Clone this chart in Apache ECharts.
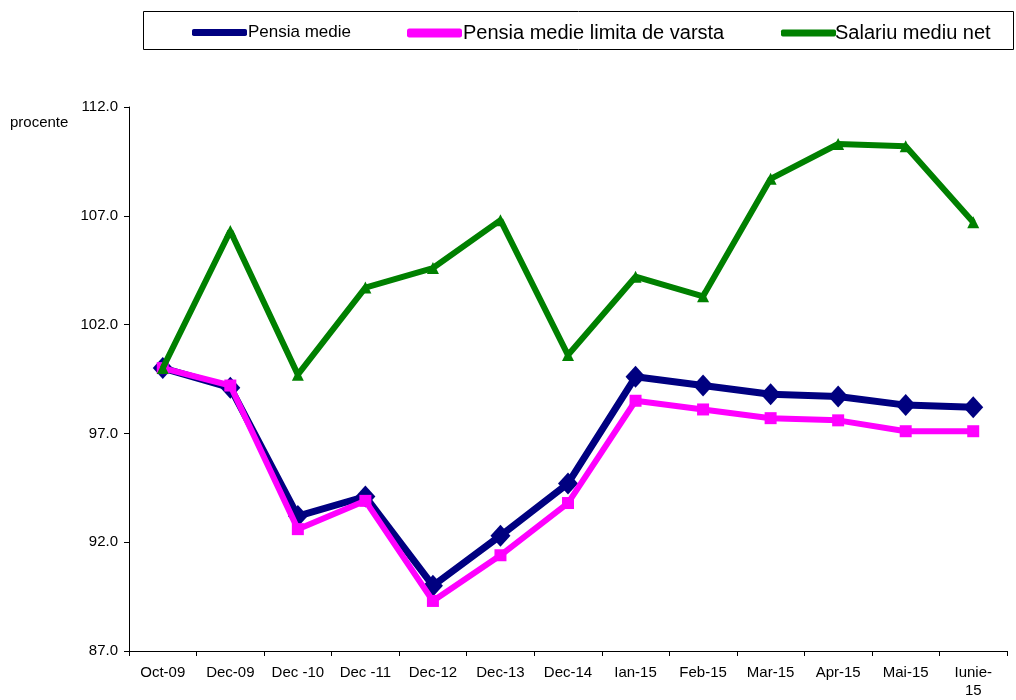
<!DOCTYPE html>
<html><head><meta charset="utf-8">
<script src="https://cdn.jsdelivr.net/npm/echarts@6/dist/echarts.min.js"></script>
<style>html,body{margin:0;padding:0;background:#fff}#c{width:1016px;height:700px}</style>
</head><body><div id="c"></div>
<script>
const categories = ['Oct-09','Dec-09','Dec -10','Dec -11','Dec-12','Dec-13','Dec-14','Ian-15','Feb-15','Mar-15','Apr-15','Mai-15','Iunie-\n15'];
const pensiaMedie = [100.0, 99.1, 93.2, 94.1, 90.0, 92.3, 94.7, 99.6, 99.2, 98.8, 98.7, 98.3, 98.2];
const pensiaLimita = [100.0, 99.2, 92.6, 93.9, 89.3, 91.4, 93.8, 98.5, 98.1, 97.7, 97.6, 97.1, 97.1];
const salariuNet = [100.0, 106.3, 99.7, 103.7, 104.6, 106.8, 100.6, 104.2, 103.3, 108.7, 110.3, 110.2, 106.7];
const yTicks = [87, 92, 97, 102, 107, 112];
const names = ['Pensia medie','Pensia medie limita de varsta','Salariu mediu net'];

const chart = echarts.init(document.getElementById('c'), null, {renderer:'canvas'});
const font = 'Arial, "Liberation Sans", sans-serif';
chart.setOption({
  animation:false,
  backgroundColor:'#fff',
  grid:{left:129,right:9,top:107,bottom:49,containLabel:false},
  graphic:[
    {type:'rect',shape:{x:143.5,y:11.5,width:870,height:38},style:{fill:'none',stroke:'#000',lineWidth:1},silent:true},
    {type:'text',left:10,top:115,style:{text:'procente',font:'15px '+font,fill:'#000'}}
  ],
  legend:[
    {data:[{name:names[0],textStyle:{fontSize:17}}],left:187,top:19,itemWidth:55,itemHeight:7,icon:'roundRect',textStyle:{fontFamily:font,color:'#000',padding:[0,0,0,-4]}},
    {data:[{name:names[1],textStyle:{fontSize:20}}],left:402,top:18,itemWidth:55,itemHeight:9,icon:'roundRect',textStyle:{fontFamily:font,color:'#000',padding:[0,0,0,-4]}},
    {data:[{name:names[2],textStyle:{fontSize:20}}],left:776,top:18,itemWidth:55,itemHeight:7,icon:'roundRect',textStyle:{fontFamily:font,color:'#000',padding:[0,0,0,-6]}}
  ],
  xAxis:{type:'category',data:categories,boundaryGap:true,
    axisLine:{lineStyle:{color:'#000',width:1}},
    axisTick:{show:true,length:5,inside:false,lineStyle:{color:'#000'}},
    axisLabel:{color:'#000',fontSize:15,fontFamily:font,margin:13,interval:0,lineHeight:18}
  },
  yAxis:{type:'value',min:87,max:112,interval:5,
    axisLine:{show:true,lineStyle:{color:'#000',width:1}},
    axisTick:{show:true,length:5,lineStyle:{color:'#000'}},
    splitLine:{show:false},
    axisLabel:{color:'#000',fontSize:15,fontFamily:font,margin:11,formatter:v=>v.toFixed(1)}
  },
  series:[
    {name:names[0],type:'line',data:pensiaMedie,color:'#000080',lineStyle:{width:7,color:'#000080'},symbol:'diamond',symbolSize:[20,22],itemStyle:{color:'#000080'},z:2},
    {name:names[1],type:'line',data:pensiaLimita,color:'#ff00ff',lineStyle:{width:6,color:'#ff00ff'},symbol:'rect',symbolSize:12,itemStyle:{color:'#ff00ff'},z:3},
    {name:names[2],type:'line',data:salariuNet,color:'#008000',lineStyle:{width:6,color:'#008000'},symbol:'triangle',symbolSize:12,itemStyle:{color:'#008000'},z:4}
  ]
});
</script></body></html>
